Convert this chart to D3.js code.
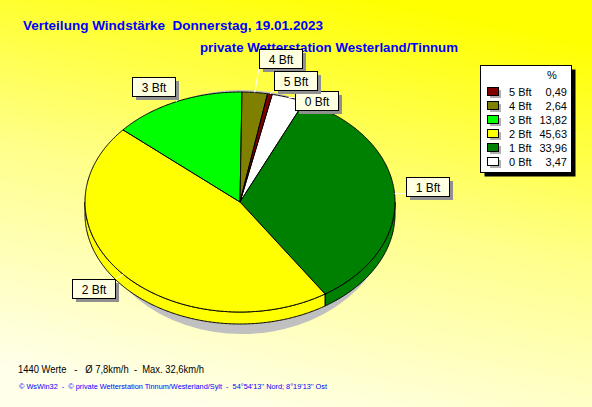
<!DOCTYPE html>
<html><head><meta charset="utf-8">
<script src="https://cdn.jsdelivr.net/npm/d3@7"></script>
<style>html,body{margin:0;padding:0;background:#fff;} svg{display:block;} text{white-space:pre;}</style>
</head><body><svg id="c" width="592" height="407"></svg>
<script>
// ---- data ----
const categories = ["5 Bft", "4 Bft", "3 Bft", "2 Bft", "1 Bft", "0 Bft"];
const percentages = [0.49, 2.64, 13.82, 45.63, 33.96, 3.47];
const percentLabels = ["0,49", "2,64", "13,82", "45,63", "33,96", "3,47"];
const titleText = "Verteilung Windstärke  Donnerstag, 19.01.2023";
const subtitleText = "private Wetterstation Westerland/Tinnum";
const statsText = "1440 Werte   -   Ø 7,8km/h  -  Max. 32,6km/h";
const footerText = "© WsWin32  -  © private Wetterstation Tinnum/Westerland/Sylt  -  54°54'13'' Nord; 8°19'13'' Ost";

// ---- styles / layout ----
const colors = ["#800000", "#808000", "#00ff00", "#ffff00", "#008000", "#ffffff"];
const labelBoxPos = [[274, 71], [259, 49], [132, 77], [72, 279], [406, 177], [295, 91]];
const W = 592, H = 407;
const cx = 240, cy = 202, rx = 155, ry = 110, depth = 12;
const startDeg = 12;

const svg = d3.select("#c");
const defs = svg.append("defs");
const g = defs.append("linearGradient").attr("id", "bg")
  .attr("x1", "0.65").attr("y1", "0").attr("x2", "0.35").attr("y2", "1");
g.append("stop").attr("offset", "0").attr("stop-color", "#ffff00");
g.append("stop").attr("offset", "0.5").attr("stop-color", "#ffff8a");
g.append("stop").attr("offset", "1").attr("stop-color", "#ffffea");
svg.append("rect").attr("width", W).attr("height", H).attr("fill", "url(#bg)");

// titles
svg.append("text").attr("x", 23).attr("y", 29.5).text(titleText)
  .attr("font-family", "Liberation Sans, Arial, sans-serif").attr("font-size", 13)
  .attr("font-weight", "bold").attr("fill", "#0000ff")
  .attr("textLength", 300).attr("lengthAdjust", "spacingAndGlyphs");
svg.append("text").attr("x", 200).attr("y", 52).text(subtitleText)
  .attr("font-family", "Liberation Sans, Arial, sans-serif").attr("font-size", 13)
  .attr("font-weight", "bold").attr("fill", "#0000ff")
  .attr("textLength", 258).attr("lengthAdjust", "spacingAndGlyphs");

// ---- pie ----
const data = categories.map((c, i) => ({ cat: c, v: percentages[i], color: colors[i], idx: i })).reverse();
const start = startDeg * Math.PI / 180;
const arcs = d3.pie().sort(null).value(d => d.v).startAngle(start).endAngle(start + 2 * Math.PI)(data);

const pt = (a, dy = 0) => [cx + rx * Math.sin(a), cy + dy - ry * Math.cos(a)];
const sample = (a0, a1, dy = 0) => {
  const n = Math.max(2, Math.ceil(Math.abs(a1 - a0) / (Math.PI / 360)));
  return d3.range(n + 1).map(k => pt(a0 + (a1 - a0) * k / n, dy));
};
const line = d3.line();

// shadow
svg.append("ellipse").attr("cx", cx + 2).attr("cy", cy + 10).attr("rx", 149).attr("ry", 122)
  .attr("fill", "#c0c0c0");

// sides (front half: angles between PI/2 and 3PI/2, mod 2PI)
const pieG = svg.append("g");
arcs.forEach(a => {
  [0, 2 * Math.PI].forEach(off => {
    const s0 = Math.max(a.startAngle - off, Math.PI / 2);
    const s1 = Math.min(a.endAngle - off, 3 * Math.PI / 2);
    if (s1 > s0) {
      const pts = sample(s0, s1).concat(sample(s1, s0, depth));
      pieG.append("path").attr("d", line(pts) + "Z")
        .attr("fill", a.data.color).attr("stroke", "#000").attr("stroke-width", 1)
        .attr("stroke-linejoin", "round");
    }
  });
});
// top faces
arcs.forEach(a => {
  const pts = [[cx, cy]].concat(sample(a.startAngle, a.endAngle));
  pieG.append("path").attr("d", line(pts) + "Z")
    .attr("fill", a.data.color).attr("stroke", "#000").attr("stroke-width", 1)
    .attr("stroke-linejoin", "round");
});

// ---- labels ----
const boxW = 43, boxH = 19;
const labG = svg.append("g");
arcs.forEach(a => {
  const i = a.data.idx;
  const mid = (a.startAngle + a.endAngle) / 2;
  const anc = pt(mid);
  const [bx, by] = labelBoxPos[i];
  const ex = Math.max(bx, Math.min(bx + boxW, anc[0]));
  const ey = Math.max(by, Math.min(by + boxH, anc[1]));
  labG.append("line").attr("x1", anc[0]).attr("y1", anc[1]).attr("x2", ex).attr("y2", ey)
    .attr("stroke", "#ffffff").attr("stroke-width", 1);
});
arcs.forEach(a => {
  const i = a.data.idx;
  const [bx, by] = labelBoxPos[i];
  labG.append("rect").attr("x", bx + 4).attr("y", by + 4).attr("width", boxW).attr("height", boxH)
    .attr("fill", "#909090");
  labG.append("rect").attr("x", bx + 0.5).attr("y", by + 0.5).attr("width", boxW).attr("height", boxH)
    .attr("fill", "#ffffe1").attr("stroke", "#000").attr("stroke-width", 1);
  labG.append("text").attr("x", bx + boxW / 2 + 0.5).attr("y", by + 14.5).attr("text-anchor", "middle")
    .attr("font-family", "Liberation Sans, Arial, sans-serif").attr("font-size", 12)
    .attr("fill", "#000").text(categories[i]);
});

// ---- legend ----
const lg = svg.append("g").attr("font-family", "Liberation Sans, Arial, sans-serif").attr("font-size", 11);
const lx = 480, ly = 65, lw = 91, lh = 107;
lg.append("rect").attr("x", lx + 4.5).attr("y", ly + 4.5).attr("width", lw).attr("height", lh).attr("fill", "#000");
lg.append("rect").attr("x", lx + 0.5).attr("y", ly + 0.5).attr("width", lw).attr("height", lh)
  .attr("fill", "#ffffff").attr("stroke", "#000").attr("stroke-width", 1);
lg.append("text").attr("x", 552).attr("y", 79).attr("text-anchor", "middle").text("%");
const rowY = d3.scalePoint().domain(categories).range([91, 161]);
categories.forEach((c, i) => {
  const yc = rowY(c);
  lg.append("rect").attr("x", 490).attr("y", yc - 1).attr("width", 11).attr("height", 8).attr("fill", "#b0b0b0");
  lg.append("rect").attr("x", 487.5).attr("y", yc - 3.5).attr("width", 11).attr("height", 8)
    .attr("fill", colors[i]).attr("stroke", "#000").attr("stroke-width", 1);
  lg.append("text").attr("x", 509).attr("y", yc + 4.5).text(c);
  lg.append("text").attr("x", 567).attr("y", yc + 4.5).attr("text-anchor", "end").text(percentLabels[i]);
});

// ---- footer ----
svg.append("text").attr("x", 18).attr("y", 373).text(statsText)
  .attr("font-family", "Liberation Sans, Arial, sans-serif").attr("font-size", 11).attr("fill", "#000")
  .attr("textLength", 186).attr("lengthAdjust", "spacingAndGlyphs");
svg.append("text").attr("x", 19).attr("y", 389).text(footerText)
  .attr("font-family", "Liberation Sans, Arial, sans-serif").attr("font-size", 8).attr("fill", "#0000ff")
  .attr("textLength", 308).attr("lengthAdjust", "spacingAndGlyphs");
</script></body></html>
